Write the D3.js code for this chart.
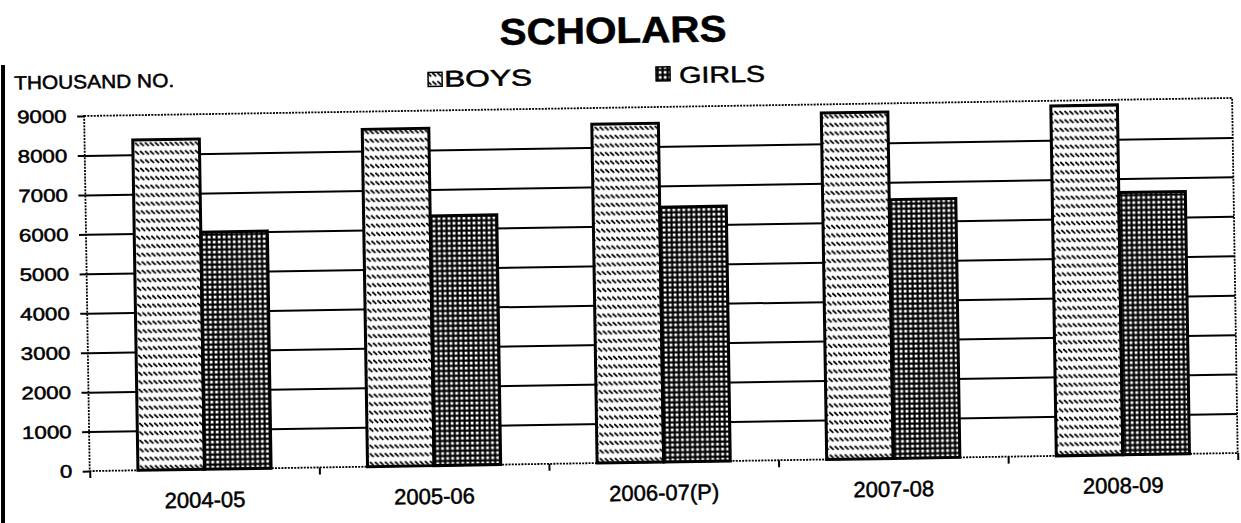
<!DOCTYPE html>
<html>
<head>
<meta charset="utf-8">
<script src="https://cdn.jsdelivr.net/npm/d3@7"></script>
<style>
  body { margin: 0; background: #fff; }
  svg { display: block; }
  text { font-family: "Liberation Sans", Arial, sans-serif; fill: #000; stroke: #000; stroke-width: 0.5px; }
</style>
</head>
<body>
<div id="chart"></div>
<script>
// data (thousand no.)
const years = ["2004-05", "2005-06", "2006-07(P)", "2007-08", "2008-09"];
const boys = [8370, 8550, 8590, 8780, 8870];
const girls = [6010, 6330, 6460, 6560, 6650];
const yTicks = [0, 1000, 2000, 3000, 4000, 5000, 6000, 7000, 8000, 9000];
const seriesNames = ["BOYS", "GIRLS"];

const W = 1241, H = 523;
const margin = {top: 107.6, right: W - 1234.6, bottom: H - 462.7, left: 86.5};
const pw = W - margin.left - margin.right;
const ph = H - margin.top - margin.bottom;

const svg = d3.select("#chart").append("svg")
    .attr("width", W)
    .attr("height", H);

// hatch patterns
const defs = svg.append("defs");
const pBoys = defs.append("pattern")
    .attr("id", "boysHatch")
    .attr("patternUnits", "userSpaceOnUse")
    .attr("width", 5).attr("height", 8.5);
pBoys.append("rect").attr("width", 5).attr("height", 8.5).attr("fill", "#fff");
pBoys.append("path").attr("d", "M0.3,1.8 L4.2,5.6").attr("stroke", "#000").attr("stroke-width", 1.8);

const pGirls = defs.append("pattern")
    .attr("id", "girlsGrid")
    .attr("patternUnits", "userSpaceOnUse")
    .attr("width", 5).attr("height", 5);
pGirls.append("rect").attr("width", 5).attr("height", 5).attr("fill", "#000");
pGirls.append("rect").attr("x", 1.7).attr("y", 1.7).attr("width", 2.8).attr("height", 2.8).attr("fill", "#fff");

const fills = ["url(#boysHatch)", "url(#girlsGrid)"];

// scanned page edge on the left
svg.append("line")
    .attr("x1", 3).attr("x2", 3).attr("y1", 65).attr("y2", H)
    .attr("stroke", "#000").attr("stroke-width", 4);

// the whole scan is slightly tilted
const page = svg.append("g").attr("transform", "rotate(-0.9,620,262)");

const g = page.append("g").attr("transform", `translate(${margin.left},${margin.top})`);

const x = d3.scaleBand().domain(years).range([0, pw]).paddingInner(0.42).paddingOuter(0.21);
const y = d3.scaleLinear().domain([0, 9000]).range([ph, 0]);
const xEdge = d3.scaleLinear().domain([0, years.length]).range([0, pw]);

// gridlines
g.append("g")
    .call(d3.axisLeft(y).tickValues(yTicks.filter(v => v > 0 && v < 9000)).tickSize(-pw).tickFormat(""))
    .call(a => a.select(".domain").remove())
    .selectAll("line").attr("stroke", "#000").attr("stroke-width", 2);

// plot border (dotted)
g.append("rect")
    .attr("width", pw).attr("height", ph)
    .attr("fill", "none")
    .attr("stroke", "#000").attr("stroke-width", 1.8)
    .attr("stroke-dasharray", "2,1.2");

// bars
const bw = x.bandwidth() / 2;
[boys, girls].forEach((vals, i) => {
    g.append("g").selectAll("rect")
        .data(years.map((yr, j) => ({yr, v: vals[j]})))
        .enter().append("rect")
        .attr("x", d => x(d.yr) + i * bw)
        .attr("y", d => y(d.v))
        .attr("width", bw)
        .attr("height", d => ph - y(d.v))
        .attr("fill", fills[i])
        .attr("stroke", "#000")
        .attr("stroke-width", 3);
});

// y axis
const yAxis = g.append("g")
    .call(d3.axisLeft(y).tickValues(yTicks).tickFormat(d3.format("d")).tickSize(7).tickPadding(10.5));
yAxis.select(".domain").remove();
yAxis.selectAll("line").attr("stroke", "#000").attr("stroke-width", 2);
yAxis.selectAll("text")
    .style("font-size", "18px")
    .attr("fill", "#000")
    .attr("textLength", d => String(d).length * 12.4)
    .attr("lengthAdjust", "spacingAndGlyphs");

// x axis: ticks on group edges, labels centred on groups
g.append("g")
    .attr("transform", `translate(0,${ph})`)
    .call(d3.axisBottom(xEdge).tickValues(d3.range(years.length + 1)).tickSize(7).tickFormat(""))
    .call(a => a.select(".domain").remove())
    .selectAll("line").attr("stroke", "#000").attr("stroke-width", 2);

const xAxis = g.append("g")
    .attr("transform", `translate(0,${ph})`)
    .call(d3.axisBottom(x).tickSize(0));
xAxis.select(".domain").remove();
xAxis.selectAll("text")
    .attr("y", 38.3).attr("dy", 0)
    .attr("fill", "#000")
    .style("font-size", "22px");

// title and unit
page.append("text")
    .attr("x", 616.7).attr("y", 43)
    .attr("text-anchor", "middle")
    .attr("textLength", 227).attr("lengthAdjust", "spacingAndGlyphs")
    .style("font-size", "37px").style("font-weight", "bold")
    .text("SCHOLARS");

page.append("text")
    .attr("x", 17).attr("y", 80)
    .attr("textLength", 160).attr("lengthAdjust", "spacingAndGlyphs")
    .style("font-size", "19px")
    .text("THOUSAND NO.");

// legend
const legend = [
    {box: [431, 69.5], tx: 447, tw: 88},
    {box: [659, 67.5], tx: 682, tw: 86}
];
legend.forEach((l, i) => {
    page.append("rect")
        .attr("x", l.box[0]).attr("y", l.box[1])
        .attr("width", 14).attr("height", 14)
        .attr("fill", fills[i])
        .attr("stroke", "#000").attr("stroke-width", 1.5);
    page.append("text")
        .attr("x", l.tx).attr("y", 84)
        .attr("textLength", l.tw).attr("lengthAdjust", "spacingAndGlyphs")
        .style("font-size", "23px")
        .text(seriesNames[i]);
});
</script>
</body>
</html>
